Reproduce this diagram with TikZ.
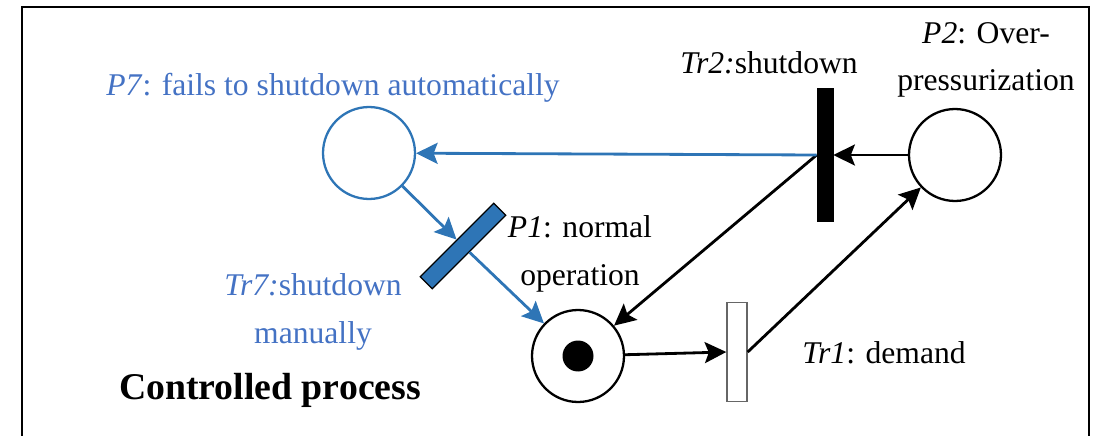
\documentclass[tikz,border=0pt]{standalone}
\usepackage{fontspec}
\setmainfont{Liberation Serif}
\usetikzlibrary{positioning,arrows.meta}
\definecolor{netblue}{HTML}{2E75B6}
\definecolor{textblue}{HTML}{4472C4}

\begin{document}
\begin{tikzpicture}[x=0.02cm, y=-0.02cm,
  place/.style={circle, draw, line width=1.3pt, minimum size=1.84cm, inner sep=0pt},
  bar/.style={rectangle, draw, inner sep=0pt},
  arc/.style={line width=1.6pt, -{Stealth[length=0.43cm, width=0.42cm, inset=0.08cm]}},
  lbl/.style={font=\fontsize{18}{20}\selectfont, align=center, inner sep=0pt}]
  \useasboundingbox (0,0) rectangle (1096,436);
  % Draw the box around the process
  \draw[line width=1.3pt] (22,436) -- (22,7) -- (1089,7) -- (1089,436);
  % Draw the places
  \node[place] (p1) at (578,356) {};
  \fill (p1) circle (0.31cm);
  \node[place] (p2) at (955,155) {};
  \node[place, draw=netblue] (p7) at (369,153) {};
  % Draw the transitions
  \node[bar, draw=black!60, fill=white, line width=0.8pt,
        minimum width=0.4cm, minimum height=1.98cm] (tr1) at (737,352) {};
  \node[bar, fill=black, minimum width=0.32cm, minimum height=2.66cm] (tr2) at (825,155) {};
  \node[bar, fill=netblue, line width=0.7pt, rotate=-45,
        minimum width=0.34cm, minimum height=2.08cm] (tr7) at (463,246) {};
  % Connect places and transitions
  \foreach \a/\b in {p1/tr1.west, tr1.east/p2, p2.west/tr2.east, tr2.west/p1}
    \draw[arc] (\a) -- (\b);
  \foreach \a/\b in {tr2.west/p7, p7/tr7, tr7/p1}
    \draw[arc, netblue] (\a) -- (\b);
  % Label the places and transitions
  \node[lbl, textblue] (l7) at (333,88) {\textit{P7}: fails to shutdown automatically};
  \node[lbl, textblue] (lt7) at (313,312) {\textit{Tr7:}shutdown\\[0.25cm]manually};
  \node[lbl] (l1) at (580,254) {\textit{P1}: normal\\[0.25cm]operation};
  \node[lbl] (l2) at (986,60) {\textit{P2}: Over-\\[0.25cm]pressurization};
  \node[lbl] (lt2) at (769,63) {\textit{Tr2:}shutdown};
  \node[lbl] (lt1) at (884,353) {\textit{Tr1}: demand};
  \node[font=\fontsize{21.5}{24}\selectfont\bfseries, inner sep=0pt] (title) at (270,390) {Controlled process};
\end{tikzpicture}
\end{document}
